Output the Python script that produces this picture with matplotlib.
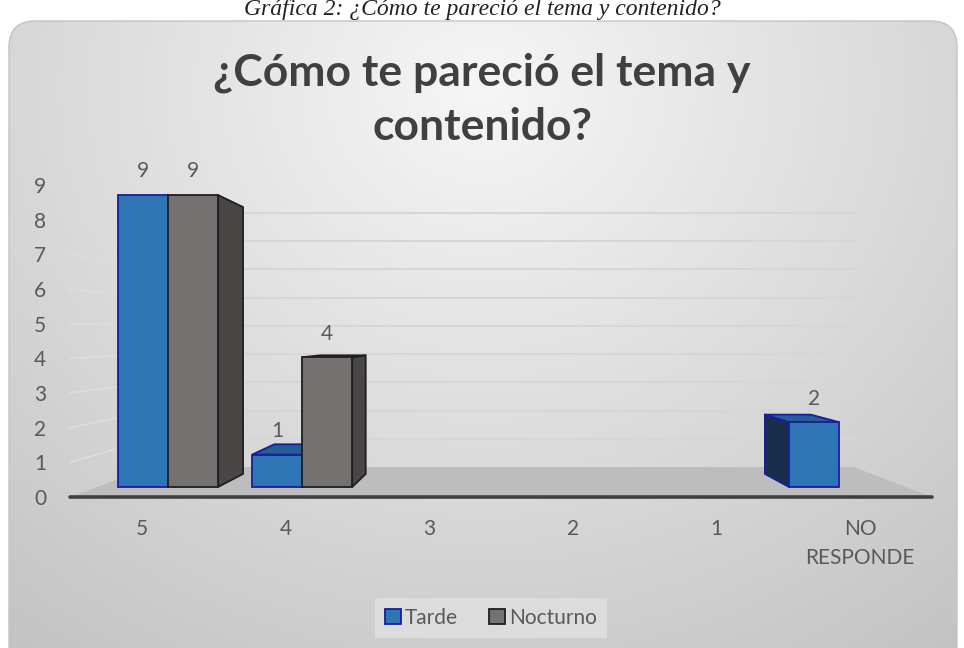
import numpy as np
import matplotlib
matplotlib.use("Agg")
import matplotlib.pyplot as plt
from matplotlib.patches import Polygon, Patch, FancyBboxPatch

# data
categories = ["5", "4", "3", "2", "1", "NO\nRESPONDE"]
tarde = [9, 1, 0, 0, 0, 2]
nocturno = [9, 4, 0, 0, 0, 0]
series_names = ["Tarde", "Nocturno"]
title = "¿Cómo te pareció el tema y\ncontenido?"
caption = "Gráfica 2: ¿Cómo te pareció el tema y contenido?"

plt.rcParams["font.family"] = ["Lato", "DejaVu Sans"]
txt = "#595959"

W, H = 964, 648
fig = plt.figure(figsize=(W / 100, H / 100), dpi=100)

# background panel with gradient
ax_bg = fig.add_axes([0, 0, 1, 1])
ax_bg.set_xlim(0, W)
ax_bg.set_ylim(H, 0)
ax_bg.axis("off")
yy, xx = np.mgrid[0:H, 0:W]
r = np.sqrt(((xx - 482) / 620.0) ** 2 + ((yy - 90) / 560.0) ** 2)
val = 0.965 - 0.16 * np.clip(r, 0, 1.3)
img = np.dstack([val, val, val])
panel = FancyBboxPatch((9, 21), 948, 660, boxstyle="round,pad=0,rounding_size=26",
                       facecolor="none", edgecolor="#C4C4C4", lw=1, transform=ax_bg.transData)
ax_bg.add_patch(panel)
im = ax_bg.imshow(img, extent=(0, W, H, 0), aspect="auto", zorder=0)
im.set_clip_path(panel)

fig.text(0.5, 1 - 15 / H, caption, ha="center", va="baseline", fontsize=17,
         family="Liberation Serif", style="italic", color="#222222")
fig.text(0.5, 1 - 100 / H, title, ha="center", va="center", fontsize=32,
         fontweight="bold", color="#404040", linespacing=1.42)

# main axes (ticks, floor, grid)
L, R, B, T = 70, 932, 497, 185
rect = [L / W, 1 - B / H, (R - L) / W, (B - T) / H]
ax = fig.add_axes(rect)
ax.patch.set_visible(False)
ax.set_xlim(-0.5, 5.5)
ax.set_ylim(0, 9)
for s in ax.spines.values():
    s.set_visible(False)
ax.set_yticks(range(10))
ax.set_xticks(range(len(categories)))
ax.set_xticklabels(categories, fontsize=15, color=txt, linespacing=1.55)
ax.tick_params(axis="y", labelsize=15, labelcolor=txt, length=0, pad=17)
ax.tick_params(axis="x", length=0, pad=16)

vx, vy, ff = 2.556, 4.67, 0.185


def proj(x, y, vx, vy, f):
    return x + f * (vx - x), y + f * (vy - y)


# floor
x0, x1 = -0.5, 5.5
bl = proj(x0, 0, vx, vy, ff)
br = proj(x1, 0, vx, vy, ff)
ax.add_patch(Polygon([(x0, 0), (x1, 0), br, bl], closed=True, facecolor="#BDBDBD",
                     edgecolor="none", zorder=1, clip_on=False))
ax.plot([x0, x1], [0, 0], color="#404040", lw=2.6, solid_capstyle="round", zorder=1.5,
        clip_on=False)
# gridlines
for v in range(1, 10):
    a = proj(x0, v, vx, vy, ff)
    b = proj(x1, v, vx, vy, ff)
    ax.plot([x0, a[0]], [v, a[1]], color="#DDDDDD", lw=1.2, zorder=0.5, clip_on=False)
    ax.plot([a[0], b[0]], [a[1], b[1]], color="#D6D6D6", lw=1.5, zorder=0.5, clip_on=False)

# bars axes
axb = fig.add_axes(rect)
axb.patch.set_visible(False)
axb.axis("off")
axb.set_xlim((L - 168) / 134.2, (R - 168) / 134.2)
axb.set_ylim((487 - B) / 32.44, (487 - T) / 32.44)
bw = 50 / 134.2
bvx, bvy, bf = 2.541, 4.685, 0.086

styles = [
    dict(front="#2E75B6", side="#172F4A", top="#245E94", edge="#1C1C9C"),
    dict(front="#767171", side="#4A4646", top="#5D5959", edge="#1E1E1E"),
]
x = np.arange(len(categories))
for k, vals in enumerate([tarde, nocturno]):
    st = styles[k]
    vals = np.array(vals)
    left = x - bw + k * bw
    nz = vals > 0
    axb.bar(left[nz], vals[nz], width=bw, align="edge", color=st["front"],
            edgecolor=st["edge"], lw=1.3, zorder=3)
    for xl, v in zip(left[nz], vals[nz]):
        xr = xl + bw
        if xr < bvx:
            pts = [(xr, 0), (xr, v), proj(xr, v, bvx, bvy, bf), proj(xr, 0, bvx, bvy, bf)]
        else:
            pts = [(xl, 0), (xl, v), proj(xl, v, bvx, bvy, bf), proj(xl, 0, bvx, bvy, bf)]
        axb.add_patch(Polygon(pts, closed=True, facecolor=st["side"], edgecolor=st["edge"],
                              lw=1.3, zorder=2))
        if v < bvy:
            pts = [(xl, v), (xr, v), proj(xr, v, bvx, bvy, bf), proj(xl, v, bvx, bvy, bf)]
            axb.add_patch(Polygon(pts, closed=True, facecolor=st["top"], edgecolor=st["edge"],
                                  lw=1.3, zorder=2))
        axb.annotate(str(v), (xl + bw / 2, v), xytext=(0, 17), textcoords="offset points",
                     ha="center", va="center", fontsize=15, color=txt, zorder=4)

handles = [Patch(facecolor=styles[k]["front"], edgecolor=styles[k]["edge"], lw=1.3,
                 label=series_names[k]) for k in range(2)]
leg = fig.legend(handles=handles, loc="center", bbox_to_anchor=(491 / W, 1 - 618 / H), ncol=2,
                 frameon=True, fancybox=False, facecolor="#DCDCDC", edgecolor="none",
                 fontsize=15, labelcolor=txt, handlelength=0.75, handleheight=0.75,
                 handletextpad=0.2, columnspacing=1.5, borderpad=0.5)
leg.get_frame().set_alpha(1)

fig.savefig("out.png", dpi=100)
